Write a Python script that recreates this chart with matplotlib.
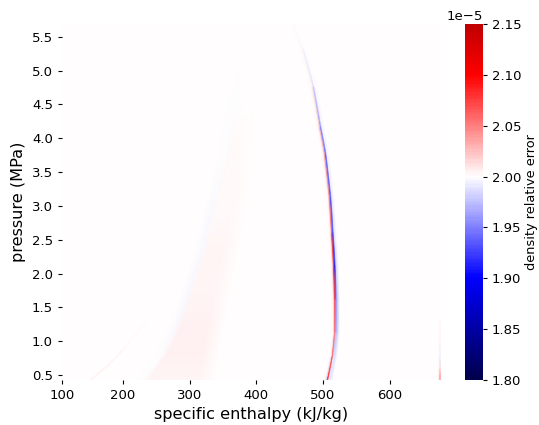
import numpy as np
import matplotlib
matplotlib.use('Agg')
import matplotlib.pyplot as plt
from matplotlib.colors import ListedColormap, Normalize
from matplotlib.cm import ScalarMappable

# colour scale, in units of 1e-5
vmin, vmax, center = 1.80, 2.15, 2.00
background_value = 2.0004
cbar_ticks = [1.80, 1.85, 1.90, 1.95, 2.00, 2.05, 2.10, 2.15]

# axis ticks: the first x label sits on the left edge of the heatmap
xtick_pos = [108.5, 200, 300, 400, 500, 600]
xtick_labels = ['100', '200', '300', '400', '500', '600']
ytick_pos = [0.5, 1.0, 1.5, 2.0, 2.5, 3.0, 3.5, 4.0, 4.5, 5.0, 5.5]

# saturated liquid ridge
ridge_p = [5.68, 5.31, 4.76, 4.17, 3.78, 3.13, 2.60, 2.10, 1.61, 1.12, 0.77, 0.43]
ridge_h = [455, 470, 485, 495.5, 503, 510.5, 514, 517, 518.5, 518.5, 515, 508]
ridge_blue = [2.0, 1.998, 1.985, 1.955, 1.94, 1.93, 1.93, 1.91, 1.95, 1.97, 1.99, 1.995]
ridge_red = [2.0004, 2.001, 2.005, 2.02, 2.03, 2.04, 2.06, 2.08, 2.07, 2.05, 2.06, 2.09]
ridge_halo_blue = [2.0004, 2.0, 1.998, 1.995, 1.995, 1.992, 1.99, 1.985, 1.975, 1.98, 1.988, 1.988]
ridge_halo_red = [2.0004, 2.0004, 2.001, 2.002, 2.003, 2.004, 2.006, 2.008, 2.008, 2.004, 1.997, 1.988]

# broad pale band at lower enthalpy
band_p = [0.43, 0.80, 1.24, 1.76, 2.35, 2.87, 3.68, 4.57, 5.16]
band_left = [236, 263, 285.5, 303.5, 323, 335, 356, 372.5, 384.5]
band_right = [326, 330.5, 339.5, 348.5, 360.5, 371, 377, 387.5, 390]
band_red = [2.005, 2.006, 2.006, 2.005, 2.004, 2.002, 2.001, 2.0006, 2.0004]
band_blue = [1.999, 1.9985, 1.998, 1.998, 1.998, 1.998, 1.9985, 1.999, 2.0]

# faint trace at low enthalpy
trace_p = [0.43, 0.65, 0.87, 1.30, 1.75, 2.30]
trace_h = [152, 178, 200, 235, 262, 290]
trace_val = [2.003, 2.003, 2.0015, 2.0008, 2.0005, 2.0004]

# column on the right edge
edge_p = [0.43, 0.50, 0.60, 0.75, 1.00, 1.30]
edge_val = [2.03, 2.03, 2.012, 1.995, 2.003, 2.001]


def centered_cmap():
    # same trimming of seismic that seaborn does with center=
    half = max(vmax - center, center - vmin)
    cc = np.linspace((vmin - center + half) / (2 * half), (vmax - center + half) / (2 * half), 256)
    return ListedColormap(plt.get_cmap('seismic')(cc))


def draw_mesh(ax, p, columns, values):
    # columns and values run across the curve, each entry one array along p
    X = np.column_stack(columns)
    Y = np.column_stack([p] * len(columns))
    C = np.column_stack(values)
    ax.pcolormesh(X, Y, C, cmap=cmap, norm=norm, shading='gouraud')


W, H = 539, 425
fig = plt.figure(figsize=(W / 100, H / 100), dpi=100)
ax = fig.add_axes([62 / W, 1 - 380 / H, (441 - 62) / W, (380 - 24) / H])
cax = fig.add_axes([464.5 / W, 1 - 380 / H, 18 / W, (380 - 24) / H])

cmap = centered_cmap()
norm = Normalize(vmin, vmax)
ax.set_facecolor(cmap(norm(background_value)))

ridge_h = np.array(ridge_h)
band_left = np.array(band_left)
band_right = np.array(band_right)
trace_h = np.array(trace_h)
bg_band = np.full(len(band_p), background_value)
bg_ridge = np.full(len(ridge_p), background_value)

draw_mesh(ax, band_p,
          [band_left - 14, band_left - 5, band_left + 3, band_right - 12, band_right + 12],
          [bg_band, band_blue, band_red, band_red, bg_band])

draw_mesh(ax, trace_p, [trace_h - 0.8, trace_h + 0.8], [trace_val, trace_val])

draw_mesh(ax, ridge_p,
          [ridge_h - 6, ridge_h - 3, ridge_h - 1, ridge_h + 1, ridge_h + 3, ridge_h + 6],
          [bg_ridge, ridge_halo_red, ridge_red, ridge_blue, ridge_halo_blue, bg_ridge])

draw_mesh(ax, edge_p,
          [np.full(len(edge_p), 674.5), np.full(len(edge_p), 677)],
          [edge_val, edge_val])

ax.set_xlim(108.5, 677)
ax.set_ylim(0.426, 5.69)
ax.set_xticks(xtick_pos)
ax.set_xticklabels(xtick_labels)
ax.set_yticks(ytick_pos)
ax.tick_params(labelsize=9.5, length=3)
ax.set_xlabel('specific enthalpy (kJ/kg)', fontsize=11.6, va='center')
ax.set_ylabel('pressure (MPa)', fontsize=11.6, va='center')
ax.xaxis.set_label_coords((251 - 62) / (441 - 62), (380 - 414) / (380 - 24))
ax.yaxis.set_label_coords((19 - 62) / (441 - 62), 0.5)
for s in ax.spines.values():
    s.set_visible(False)

sm = ScalarMappable(norm=Normalize(vmin * 1e-5, vmax * 1e-5), cmap=cmap)
cbar = fig.colorbar(sm, cax=cax)
cbar.set_ticks([t * 1e-5 for t in cbar_ticks])
cbar.outline.set_visible(False)
cbar.ax.tick_params(labelsize=9.5, length=3)
cbar.ax.yaxis.get_offset_text().set_fontsize(9.5)
cbar.set_label('density relative error', fontsize=9.3, va='center')
cbar.ax.yaxis.set_label_coords((532 - 464.5) / 18, 0.5)

fig.savefig('out.png', dpi=100)
